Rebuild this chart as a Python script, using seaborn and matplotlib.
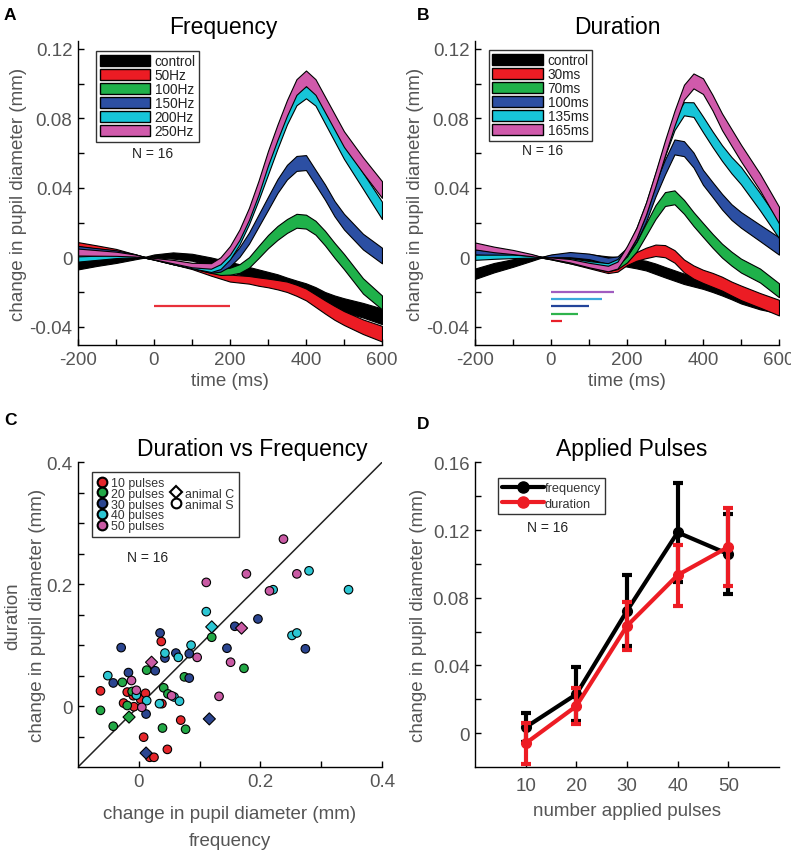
import numpy as np
import pandas as pd
import seaborn as sns
import matplotlib
matplotlib.use("Agg")
import matplotlib.pyplot as plt
from matplotlib.patches import Patch
from matplotlib.lines import Line2D

# ---- time grid (ms) shared by panels A and B ----
t_ms = [-200, -150, -100, -50, -25, 0, 50, 100, 150, 175, 200, 225, 250,
        275, 300, 325, 350, 375, 400, 425, 450, 475, 500, 550, 600]

# ---- panel A: frequency ----
freq_labels = ["control", "50Hz", "100Hz", "150Hz", "200Hz", "250Hz"]
a_control = [-0.0045, -0.003, -0.0018, -0.0006, 0.0, 0.0008, 0.001, 0.0, -0.0025, -0.004, -0.0055, -0.007, -0.0086,
             -0.010, -0.0114, -0.013, -0.015, -0.0168, -0.0185, -0.021, -0.024, -0.026, -0.0276, -0.0305, -0.034]
a_control_sem = [0.0025, 0.002, 0.0015, 0.0006, 0.0002, 0.0008, 0.0018, 0.002, 0.0024, 0.0026, 0.0028, 0.003, 0.003,
                 0.003, 0.003, 0.0032, 0.0033, 0.0034, 0.0035, 0.0038, 0.004, 0.004, 0.004, 0.0042, 0.0045]
a_50 = [0.0075, 0.0058, 0.004, 0.0013, 0.0, -0.001, -0.003, -0.0055, -0.009, -0.0105, -0.012, -0.0125, -0.013,
        -0.014, -0.0148, -0.0158, -0.017, -0.019, -0.0214, -0.025, -0.0286, -0.032, -0.035, -0.04, -0.044]
a_50_sem = [0.0012, 0.001, 0.0008, 0.0004, 0.0002, 0.0004, 0.001, 0.0013, 0.0016, 0.0018, 0.002, 0.0021, 0.0022,
            0.0024, 0.0025, 0.0027, 0.003, 0.0032, 0.0034, 0.0036, 0.0038, 0.004, 0.004, 0.0042, 0.0045]
a_100 = [0.005, 0.004, 0.003, 0.0012, 0.0, -0.001, -0.003, -0.005, -0.0075, -0.0085, -0.008, -0.0065, -0.003,
         0.003, 0.009, 0.014, 0.018, 0.021, 0.0205, 0.017, 0.011, 0.004, -0.0025, -0.0165, -0.026]
a_100_sem = [0.0012, 0.001, 0.0008, 0.0004, 0.0002, 0.0004, 0.001, 0.0013, 0.0015, 0.0017, 0.002, 0.0025, 0.003,
             0.0035, 0.0038, 0.004, 0.004, 0.004, 0.004, 0.004, 0.0042, 0.0043, 0.0044, 0.0044, 0.004]
a_150 = [0.005, 0.004, 0.003, 0.0013, 0.0, -0.0008, -0.003, -0.005, -0.0075, -0.0065, -0.003, 0.003, 0.011,
         0.021, 0.031, 0.041, 0.049, 0.054, 0.0545, 0.046, 0.0375, 0.028, 0.0205, 0.009, 0.001]
a_150_sem = [0.0015, 0.0012, 0.001, 0.0005, 0.0002, 0.0004, 0.001, 0.0013, 0.0015, 0.0018, 0.0022, 0.0028, 0.0032,
             0.0035, 0.0038, 0.004, 0.0042, 0.0043, 0.0043, 0.0043, 0.0044, 0.0044, 0.0045, 0.0045, 0.0045]
a_200 = [-0.001, -0.0003, 0.0005, 0.0005, 0.0, -0.0008, -0.003, -0.005, -0.007, -0.005, 0.001, 0.01, 0.022,
         0.036, 0.051, 0.066, 0.08, 0.091, 0.095, 0.091, 0.081, 0.071, 0.061, 0.044, 0.027]
a_200_sem = [0.0015, 0.0012, 0.001, 0.0005, 0.0002, 0.0004, 0.001, 0.0013, 0.0015, 0.0018, 0.0022, 0.0026, 0.003,
             0.0032, 0.0034, 0.0035, 0.0035, 0.0035, 0.0035, 0.0037, 0.004, 0.0042, 0.0044, 0.0046, 0.005]
a_250 = [0.003, 0.0025, 0.002, 0.001, 0.0, -0.0008, -0.0025, -0.0045, -0.005, -0.002, 0.004, 0.013, 0.025,
         0.04, 0.057, 0.072, 0.086, 0.098, 0.103, 0.098, 0.088, 0.078, 0.068, 0.053, 0.039]
a_250_sem = [0.002, 0.0016, 0.0012, 0.0006, 0.0002, 0.0004, 0.001, 0.0013, 0.0016, 0.002, 0.0025, 0.003, 0.0035,
             0.004, 0.0042, 0.0044, 0.0045, 0.0045, 0.0045, 0.0045, 0.0045, 0.0045, 0.0045, 0.0045, 0.0048]

# ---- panel B: duration ----
dur_labels = ["control", "30ms", "70ms", "100ms", "135ms", "165ms"]
b_control = [-0.0095, -0.006, -0.0033, -0.001, 0.0, 0.0005, 0.0008, 0.0, -0.0015, -0.002, -0.003, -0.0038, -0.0048,
             -0.0066, -0.0086, -0.0105, -0.0124, -0.0138, -0.0152, -0.017, -0.019, -0.021, -0.0233, -0.0267, -0.029]
b_control_sem = [0.003, 0.0027, 0.0022, 0.001, 0.0002, 0.0008, 0.0015, 0.0018, 0.002, 0.0022, 0.0024, 0.0026, 0.0028,
                 0.003, 0.003, 0.003, 0.003, 0.003, 0.003, 0.003, 0.003, 0.0032, 0.0033, 0.0033, 0.0033]
b_30 = [0.004, 0.003, 0.002, 0.0008, 0.0, -0.0008, -0.0025, -0.005, -0.0075, -0.0065, -0.0025, 0.0005, 0.0025,
        0.004, 0.0035, 0.0005, -0.005, -0.0085, -0.011, -0.013, -0.0152, -0.018, -0.0205, -0.0248, -0.029]
b_30_sem = [0.0012, 0.001, 0.0008, 0.0004, 0.0002, 0.0004, 0.001, 0.0013, 0.0016, 0.0018, 0.002, 0.0025, 0.003,
            0.0033, 0.0035, 0.0036, 0.0037, 0.0038, 0.0038, 0.004, 0.004, 0.004, 0.0042, 0.0042, 0.0045]
b_70 = [0.004, 0.003, 0.002, 0.0008, 0.0, -0.0008, -0.0025, -0.0045, -0.0065, -0.005, -0.001, 0.006, 0.016,
        0.026, 0.0335, 0.0345, 0.029, 0.022, 0.0157, 0.0095, 0.0038, -0.0008, -0.0048, -0.0105, -0.019]
b_70_sem = [0.0012, 0.001, 0.0008, 0.0004, 0.0002, 0.0004, 0.001, 0.0013, 0.0016, 0.0018, 0.002, 0.0028, 0.0035,
            0.004, 0.004, 0.004, 0.004, 0.004, 0.004, 0.004, 0.004, 0.004, 0.004, 0.004, 0.004]
b_100 = [0.003, 0.0022, 0.0015, 0.0008, 0.0, 0.0008, 0.0015, 0.0005, -0.002, -0.0015, 0.003, 0.012, 0.024,
         0.039, 0.052, 0.0635, 0.0625, 0.056, 0.046, 0.039, 0.032, 0.026, 0.0215, 0.014, 0.0065]
b_100_sem = [0.0015, 0.0012, 0.001, 0.0006, 0.0002, 0.0008, 0.0015, 0.0016, 0.0018, 0.002, 0.0025, 0.003, 0.0035,
             0.004, 0.0043, 0.0043, 0.0043, 0.0043, 0.0043, 0.0043, 0.0045, 0.0045, 0.0045, 0.0047, 0.005]
b_135 = [0.0, 0.0003, 0.0005, 0.0003, 0.0, -0.0005, -0.0015, -0.0035, -0.005, -0.003, 0.003, 0.014, 0.028,
         0.045, 0.062, 0.077, 0.0855, 0.085, 0.0765, 0.068, 0.06, 0.053, 0.047, 0.032, 0.016]
b_135_sem = [0.0015, 0.0012, 0.001, 0.0005, 0.0002, 0.0004, 0.001, 0.0013, 0.0016, 0.002, 0.0025, 0.003, 0.0033,
             0.0035, 0.0038, 0.0038, 0.0038, 0.0042, 0.0045, 0.0045, 0.0045, 0.0047, 0.005, 0.005, 0.005]
b_165 = [0.0065, 0.0045, 0.003, 0.0012, 0.0, -0.0005, -0.002, -0.0045, -0.0065, -0.0045, 0.004, 0.014, 0.028,
         0.045, 0.063, 0.08, 0.095, 0.1015, 0.0985, 0.089, 0.078, 0.069, 0.06, 0.0433, 0.0243]
b_165_sem = [0.002, 0.0016, 0.0012, 0.0006, 0.0002, 0.0004, 0.001, 0.0013, 0.0016, 0.002, 0.0025, 0.003, 0.0035,
             0.004, 0.0043, 0.0043, 0.0043, 0.0043, 0.0045, 0.0045, 0.0048, 0.0048, 0.0048, 0.0048, 0.0048]

band_colors = ["black", "#ec1c24", "#1fb14a", "#2c4fa3", "#17c5d8", "#d05aab"]

# stimulus bars
a_stim_len = [200]
a_stim_y = [-0.028]
a_stim_colors = ["#e8303a"]
b_stim_len = [165, 135, 100, 70, 30]
b_stim_y = [-0.0200, -0.0240, -0.0280, -0.0325, -0.0365]
b_stim_colors = ["#a05cc0", "#3aa8dc", "#23449a", "#2eb34c", "#e8202a"]

# ---- panel C: duration vs frequency scatter ----
pulse_labels = ["10 pulses", "20 pulses", "30 pulses", "40 pulses", "50 pulses"]
pulse_colors = ["#e5262b", "#22a846", "#2b4590", "#2cc6d3", "#c95aa4"]
c10_x = [-0.063, 0.037, -0.019, -0.025, -0.008, 0.003, 0.011, -0.009, 0.069, 0.008, 0.047, 0.018, 0.025, 0.038]
c10_y = [0.025, 0.106, 0.023, 0.005, -0.001, 0.011, 0.021, 0.017, -0.023, -0.051, -0.071, -0.084, -0.084, 0.004]
c10_animal = ["S"] * 14
c20_x = [-0.063, -0.042, -0.027, -0.019, -0.016, -0.011, 0.013, 0.041, 0.048, 0.039, 0.075, 0.077, 0.120, 0.173]
c20_y = [-0.007, -0.033, 0.039, 0.001, -0.018, 0.024, 0.059, 0.030, 0.020, -0.036, 0.048, -0.038, 0.113, 0.062]
c20_animal = ["S", "S", "S", "S", "C", "S", "S", "S", "S", "S", "S", "S", "S", "S"]
c30_x = [-0.029, -0.017, -0.042, 0.035, 0.027, 0.043, 0.061, 0.083, 0.083, 0.012, 0.012, 0.116, 0.145, 0.158,
         0.196, 0.274]
c30_y = [0.096, 0.055, 0.038, 0.120, 0.058, 0.079, 0.087, 0.086, 0.046, -0.013, -0.077, -0.021, 0.095, 0.131,
         0.143, 0.094]
c30_animal = ["S"] * 10 + ["C", "C"] + ["S"] * 4
c40_x = [-0.051, -0.004, 0.013, 0.034, 0.043, 0.065, 0.058, 0.067, 0.086, 0.111, 0.120, 0.221, 0.252, 0.260,
         0.280, 0.345]
c40_y = [0.050, 0.018, 0.009, 0.004, 0.087, 0.080, 0.015, 0.008, 0.100, 0.155, 0.130, 0.191, 0.116, 0.120,
         0.222, 0.191]
c40_animal = ["S"] * 10 + ["C"] + ["S"] * 5
c50_x = [-0.012, -0.004, 0.005, 0.021, 0.054, 0.096, 0.111, 0.132, 0.151, 0.169, 0.177, 0.215, 0.238, 0.260]
c50_y = [0.042, 0.026, -0.002, 0.072, 0.017, 0.080, 0.203, 0.016, 0.072, 0.128, 0.217, 0.189, 0.274, 0.217]
c50_animal = ["S", "S", "S", "C", "S", "S", "S", "S", "S", "C", "S", "S", "S", "S"]

# ---- panel D: applied pulses ----
n_pulses = [10, 20, 30, 40, 50]
d_freq_mean = [0.0035, 0.023, 0.0723, 0.1186, 0.1058]
d_freq_err = [0.0085, 0.016, 0.021, 0.029, 0.0235]
d_dur_mean = [-0.006, 0.016, 0.0634, 0.0934, 0.110]
d_dur_err = [0.012, 0.0105, 0.0143, 0.018, 0.023]

GRAY = "#555555"
sns.set_theme(style="ticks")
plt.rcParams["font.family"] = ["Liberation Sans", "DejaVu Sans"]
plt.rcParams["axes.linewidth"] = 1.0

fig = plt.figure(figsize=(7.91, 8.53), dpi=100)
ax_a = fig.add_axes([0.0986, 0.5944, 0.3843, 0.3564])
ax_b = fig.add_axes([0.6005, 0.5944, 0.3843, 0.3564])
ax_c = fig.add_axes([0.0986, 0.0996, 0.3843, 0.3572])
ax_d = fig.add_axes([0.6005, 0.0996, 0.3843, 0.3572])


def style_axes(ax, xpad=4):
    sns.despine(ax=ax)
    for s in ["left", "bottom"]:
        ax.spines[s].set_color("black")
        ax.spines[s].set_linewidth(1.0)
    ax.tick_params(direction="in", length=4, width=1, color="black",
                   labelcolor=GRAY, labelsize=13.5, pad=4)
    ax.tick_params(axis="x", pad=xpad)


def draw_bands(ax, means, sems):
    t = np.array(t_ms)
    for m, s, c in zip(means, sems, band_colors):
        m = np.array(m)
        s = np.array(s)
        ax.fill_between(t, m - s, m + s, facecolor=c, edgecolor="black", linewidth=0.8)


def band_legend(ax, labels, anchor):
    handles = [Patch(facecolor=c, edgecolor="black", linewidth=1.0) for c in band_colors]
    leg = ax.legend(handles, labels, loc="upper left", bbox_to_anchor=anchor, fontsize=9.8,
                    handlelength=3.7, handleheight=0.85, handletextpad=0.35, labelspacing=0.0,
                    borderpad=0.25, borderaxespad=0, fancybox=False, framealpha=1)
    leg.get_frame().set_edgecolor("#333333")
    leg.get_frame().set_linewidth(1.0)
    for txt in leg.get_texts():
        txt.set_color("#222222")


time_ticks = [-200, -100, 0, 100, 200, 300, 400, 500, 600]
time_ticklabels = ["-200", "", "0", "", "200", "", "400", "", "600"]
ab_yticks = [-0.04, -0.02, 0, 0.02, 0.04, 0.06, 0.08, 0.10, 0.12]
ab_yticklabels = ["-0.04", "", "0", "", "0.04", "", "0.08", "", "0.12"]

# ---- A ----
draw_bands(ax_a, [a_control, a_50, a_100, a_150, a_200, a_250],
           [a_control_sem, a_50_sem, a_100_sem, a_150_sem, a_200_sem, a_250_sem])
ax_a.hlines(a_stim_y, 0, a_stim_len, colors=a_stim_colors, linewidth=1.6)
band_legend(ax_a, freq_labels, (0.060, 0.967))
ax_a.text(-5, 0.060, "N = 16", ha="center", va="center", fontsize=10, color="#222222")
ax_a.set_title("Frequency", fontsize=16.5, color="black", pad=6, x=0.477)

# ---- B ----
draw_bands(ax_b, [b_control, b_30, b_70, b_100, b_135, b_165],
           [b_control_sem, b_30_sem, b_70_sem, b_100_sem, b_135_sem, b_165_sem])
ax_b.hlines(b_stim_y, 0, b_stim_len, colors=b_stim_colors, linewidth=1.6)
band_legend(ax_b, dur_labels, (0.046, 0.970))
ax_b.text(-21, 0.062, "N = 16", ha="center", va="center", fontsize=10, color="#222222")
ax_b.set_title("Duration", fontsize=16.5, color="black", pad=6, x=0.467)

for ax in (ax_a, ax_b):
    ax.set_xlim(-200, 600)
    ax.set_ylim(-0.0505, 0.1245)
    ax.set_xticks(time_ticks)
    ax.set_xticklabels(time_ticklabels)
    ax.set_yticks(ab_yticks)
    ax.set_yticklabels(ab_yticklabels)
    ax.set_xlabel("time (ms)", fontsize=13.5, color=GRAY, labelpad=3)
    ax.set_ylabel("change in pupil diameter (mm)", fontsize=13.5, color=GRAY, labelpad=2)
    style_axes(ax)

# ---- C ----
frames = []
for lab, xs, ys, an in zip(pulse_labels, [c10_x, c20_x, c30_x, c40_x, c50_x],
                           [c10_y, c20_y, c30_y, c40_y, c50_y],
                           [c10_animal, c20_animal, c30_animal, c40_animal, c50_animal]):
    frames.append(pd.DataFrame({"freq": xs, "dur": ys, "pulses": lab, "animal": an}))
scat = pd.concat(frames, ignore_index=True)

ax_c.axline((0, 0), slope=1, color="#222222", linewidth=1.1, zorder=1)
sns.scatterplot(data=scat, x="freq", y="dur", hue="pulses", hue_order=pulse_labels,
                palette=pulse_colors, style="animal", markers={"S": "o", "C": "D"},
                s=38, edgecolor="black", linewidth=0.8, legend=False, ax=ax_c, zorder=3)

c_handles = [Line2D([], [], linestyle="none", marker="o", markersize=7, markerfacecolor=c,
                    markeredgecolor="black", markeredgewidth=1.5) for c in pulse_colors]
blank = Line2D([], [], linestyle="none")
c_handles += [blank,
              Line2D([], [], linestyle="none", marker="D", markersize=6, markerfacecolor="white",
                     markeredgecolor="black", markeredgewidth=1.5),
              Line2D([], [], linestyle="none", marker="o", markersize=7, markerfacecolor="white",
                     markeredgecolor="black", markeredgewidth=1.5),
              blank, blank]
c_labels = pulse_labels + ["", "animal C", "animal S", "", ""]
leg_c = ax_c.legend(c_handles, c_labels, ncol=2, loc="upper left", bbox_to_anchor=(0.046, 0.968),
                    fontsize=8.9, handlelength=0.8, handletextpad=0.35, labelspacing=-0.1,
                    columnspacing=0.5, borderpad=0.4, borderaxespad=0, fancybox=False, framealpha=1)
leg_c.get_frame().set_edgecolor("#333333")
leg_c.get_frame().set_linewidth(1.0)
for txt in leg_c.get_texts():
    txt.set_color("#333333")
ax_c.text(0.014, 0.245, "N = 16", ha="center", va="center", fontsize=10, color="#222222")
ax_c.set_title("Duration vs Frequency", fontsize=16.5, color="black", pad=5, x=0.572)
ax_c.set_xlim(-0.1, 0.4)
ax_c.set_ylim(-0.1, 0.4)
ax_c.set_xticks([0, 0.1, 0.2, 0.3, 0.4])
ax_c.set_xticklabels(["0", "", "0.2", "", "0.4"])
ax_c.set_yticks([-0.05, 0, 0.05, 0.1, 0.15, 0.2, 0.25, 0.3, 0.35, 0.4])
ax_c.set_yticklabels(["", "0", "", "", "", "0.2", "", "", "", "0.4"])
ax_c.set_xlabel("change in pupil diameter (mm)\nfrequency", fontsize=13.5, color=GRAY,
                linespacing=1.75, labelpad=11)
ax_c.set_ylabel("duration\nchange in pupil diameter (mm)", fontsize=13.5, color=GRAY,
                linespacing=1.6, labelpad=0)
style_axes(ax_c)

# ---- D ----
RED = "#ed1c24"
ax_d.errorbar(n_pulses, d_freq_mean, yerr=d_freq_err, color="black", linewidth=3, marker="o",
              markersize=7, capsize=3.5, capthick=3, elinewidth=3, label="frequency", zorder=2)
ax_d.errorbar(n_pulses, d_dur_mean, yerr=d_dur_err, color=RED, linewidth=3, marker="o",
              markersize=7, capsize=3.5, capthick=3, elinewidth=3, label="duration", zorder=3)
d_handles = [Line2D([], [], color="black", linewidth=3, marker="o", markersize=8),
             Line2D([], [], color=RED, linewidth=3, marker="o", markersize=8)]
leg_d = ax_d.legend(d_handles, ["frequency", "duration"], loc="upper left",
                    bbox_to_anchor=(0.076, 0.948), fontsize=9.2, handlelength=3.3,
                    handletextpad=0.05, labelspacing=0.3, borderpad=0.3, borderaxespad=0,
                    fancybox=False, framealpha=1)
leg_d.get_frame().set_edgecolor("#333333")
leg_d.get_frame().set_linewidth(1.0)
for txt in leg_d.get_texts():
    txt.set_color("#333333")
ax_d.text(14.3, 0.1218, "N = 16", ha="center", va="center", fontsize=10, color="#222222")
ax_d.set_title("Applied Pulses", fontsize=16.5, color="black", pad=5, x=0.516)
ax_d.set_xlim(0, 60)
ax_d.set_ylim(-0.02, 0.16)
ax_d.set_xticks(n_pulses)
ax_d.set_xticklabels([str(v) for v in n_pulses])
ax_d.set_yticks([0, 0.02, 0.04, 0.06, 0.08, 0.10, 0.12, 0.14, 0.16])
ax_d.set_yticklabels(["0", "", "0.04", "", "0.08", "", "0.12", "", "0.16"])
ax_d.set_xlabel("number applied pulses", fontsize=13.5, color=GRAY, labelpad=6)
ax_d.set_ylabel("change in pupil diameter (mm)", fontsize=13.5, color=GRAY, labelpad=4)
style_axes(ax_d, xpad=7)

# panel letters
for lab, x, y in [("A", 4, 15), ("B", 417, 15), ("C", 4, 421), ("D", 417, 425)]:
    fig.text(x / 791, 1 - y / 853, lab, fontsize=12.5, fontweight="bold", color="black",
             ha="left", va="center")

fig.savefig("out.png", dpi=100)
